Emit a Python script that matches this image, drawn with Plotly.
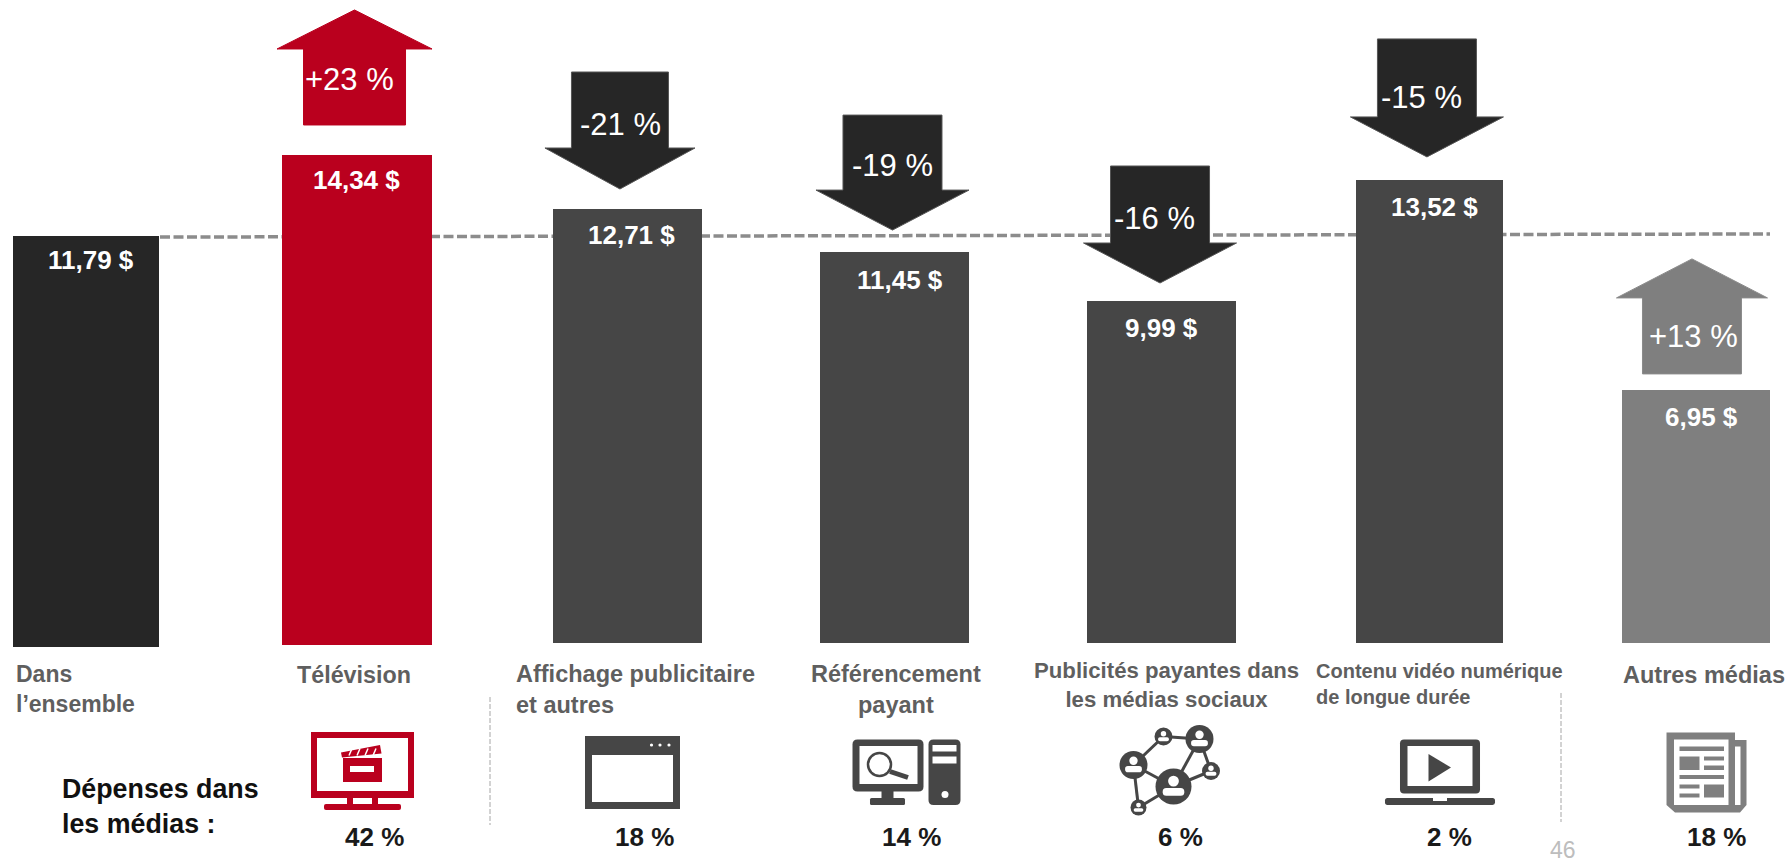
import plotly.graph_objects as go

# ---- data ----
categories = ["Dans l’ensemble", "Télévision", "Affichage publicitaire et autres",
              "Référencement payant", "Publicités payantes dans les médias sociaux",
              "Contenu vidéo numérique de longue durée", "Autres médias"]
label_values = [11.79, 14.34, 12.71, 11.45, 9.99, 13.52, 6.95]
# Bar tops as actually drawn in the reference (not quite to scale with the printed labels)
bar_tops = [11.90, 14.27, 12.69, 11.43, 10.00, 13.54, 7.40]
bar_bases = [-0.117, -0.058, 0, 0, 0, 0, 0]
change_labels = [None, "+23 %", "-21 %", "-19 %", "-16 %", "-15 %", "+13 %"]
media_spend = ["42 %", "18 %", "14 %", "6 %", "2 %", "18 %"]
average_line = [11.87, 11.96]

# ---- styles / layout ----
W, H = 1790, 863
FONT = "Liberation Sans"
RED, BLACK, DARK, GREY = "#BA001E", "#262626", "#464646", "#7F7F7F"
bar_colors = [BLACK, RED, DARK, DARK, DARK, DARK, GREY]
X0, STEP, Y0, UNIT = 86.0, 268.33, 643.0, 34.2   # pixel calibration of the two axes
bar_left_px = [-73, -72.3, -69.7, -71, -72.3, -71.7, -74]
bar_width_px = [146, 150, 149, 149, 149, 147, 148]

fig = go.Figure()
fig.add_bar(
    x=categories,
    y=[t - b for t, b in zip(bar_tops, bar_bases)],
    base=bar_bases,
    width=[w / STEP for w in bar_width_px],
    offset=[o / STEP for o in bar_left_px],
    marker=dict(color=bar_colors, line=dict(width=0)),
    hoverinfo="skip",
)

shapes, ann = [], []

# ---- average dashed line, behind the bars ----
shapes.append(dict(type="line", xref="x", yref="y", layer="below",
                   x0=(160 - X0) / STEP, x1=(1770 - X0) / STEP,
                   y0=average_line[0], y1=average_line[1],
                   line=dict(color="#8C8C8C", width=3.5, dash="10px,3.5px")))

# ---- arrows anchored on their bars: (dx, gap, head, shaft, head half, shaft half) ----
arrow_geo = {1: (0.2, 30, 39, 76, 77.5, 51), 2: (-2.7, 20, 41, 76, 75, 48.5),
             3: (1.5, 22, 40, 75, 76.5, 49.5), 4: (0.7, 18, 40, 77, 76.5, 49.5),
             5: (-0.7, 23, 40, 78, 76.5, 49.5), 6: (-4, 16, 39, 76, 75.5, 49.5)}
arrow_colors = {1: RED, 2: BLACK, 3: BLACK, 4: BLACK, 5: BLACK, 6: GREY}
arrow_lines = {1: RED, 2: "#555555", 3: "#555555", 4: "#555555", 5: "#555555", 6: "#8A8A8A"}
change_y_px = {1: 79, 2: 125, 3: 166, 4: 218, 5: 98, 6: 336}
change_x_px = {1: 349, 2: 620, 3: 892, 4: 1154, 5: 1421, 6: 1693}

def top_px(i):
    return Y0 - UNIT * bar_tops[i]

for i, (dx, gap, head, shaft, hh, sh) in arrow_geo.items():
    up = change_labels[i].startswith("+")
    if up:
        a, b, c = gap, gap + shaft, gap + shaft + head       # shaft bottom, head base, tip
    else:
        a, b, c = gap + head + shaft, gap + head, gap        # shaft top, head base, tip
    path = (f"M {dx - sh} {a} L {dx + sh} {a} L {dx + sh} {b} L {dx + hh} {b} "
            f"L {dx} {c} L {dx - hh} {b} L {dx - sh} {b} Z")
    shapes.append(dict(type="path", path=path, xref="x", yref="y",
                       xsizemode="pixel", ysizemode="pixel", xanchor=i, yanchor=bar_tops[i],
                       fillcolor=arrow_colors[i], line=dict(color=arrow_lines[i], width=1),
                       layer="above"))
    ann.append(dict(x=i, y=bar_tops[i], xref="x", yref="y",
                    xshift=change_x_px[i] - (X0 + STEP * i),
                    yshift=top_px(i) - change_y_px[i],
                    text=change_labels[i], showarrow=False, xanchor="center", yanchor="middle",
                    font=dict(family=FONT, size=31, color="white")))

# ---- value labels inside the bars ----
value_x_px = [91, 356, 631, 900, 1161, 1434, 1701]
value_dy_px = [24, 25, 26, 28, 27, 27, 27]
for i, v in enumerate(label_values):
    ann.append(dict(x=i, y=bar_tops[i], xref="x", yref="y",
                    xshift=value_x_px[i] - (X0 + STEP * i), yshift=-value_dy_px[i],
                    text=f"{v:.2f}".replace(".", ",") + " $", showarrow=False,
                    xanchor="center", yanchor="middle",
                    font=dict(family=FONT, size=26, color="white", weight="bold")))

# ---- pixel helpers for page furniture ----
def px(x): return x / W
def py(y): return 1 - y / H
def text(x, y, s, size, color, anchor="center", bold=True):
    f = dict(family=FONT, size=size, color=color)
    if bold:
        f["weight"] = "bold"
    ann.append(dict(x=px(x), y=py(y), xref="paper", yref="paper", text=s, showarrow=False,
                    xanchor=anchor, yanchor="middle", align=anchor, font=f))
def rect(x0, y0, x1, y1, c):
    shapes.append(dict(type="rect", xref="paper", yref="paper", x0=px(x0), x1=px(x1),
                       y0=py(y1), y1=py(y0), fillcolor=c, line=dict(width=0), layer="above"))
def poly(pts, c):
    d = "M " + " L ".join(f"{px(a):.5f} {py(b):.5f}" for a, b in pts) + " Z"
    shapes.append(dict(type="path", xref="paper", yref="paper", path=d, fillcolor=c,
                       line=dict(width=0), layer="above"))
def rrect(x0, y0, x1, y1, r, c):
    P = lambda a, b: f"{px(a):.5f} {py(b):.5f}"
    d = (f"M {P(x0 + r, y0)} L {P(x1 - r, y0)} Q {P(x1, y0)} {P(x1, y0 + r)} "
         f"L {P(x1, y1 - r)} Q {P(x1, y1)} {P(x1 - r, y1)} L {P(x0 + r, y1)} "
         f"Q {P(x0, y1)} {P(x0, y1 - r)} L {P(x0, y0 + r)} Q {P(x0, y0)} {P(x0 + r, y0)} Z")
    shapes.append(dict(type="path", xref="paper", yref="paper", path=d, fillcolor=c,
                       line=dict(width=0), layer="above"))
def circle(cx, cy, r, c, lw=0, lc=None):
    shapes.append(dict(type="circle", xref="paper", yref="paper", x0=px(cx - r), x1=px(cx + r),
                       y0=py(cy + r), y1=py(cy - r), fillcolor=c,
                       line=dict(width=lw, color=lc or c), layer="above"))
def seg(x0, y0, x1, y1, c, w):
    shapes.append(dict(type="line", xref="paper", yref="paper", x0=px(x0), x1=px(x1),
                       y0=py(y0), y1=py(y1), line=dict(color=c, width=w), layer="above"))

# ---- category labels ----
GT = "#5F5F5F"
text(14, 689, "Dans<br>l’ensemble", 23, GT, "left")
text(354, 675, "Télévision", 23.3, GT)
text(514, 689, "Affichage publicitaire<br>et autres", 23.5, GT, "left")
text(896, 689, "Référencement<br>payant", 23.5, GT)
text(1166, 685, "Publicités payantes dans<br>les médias sociaux", 22.2, GT)
text(1314, 684, "Contenu vidéo numérique<br>de longue durée", 20, GT, "left")
text(1704, 675, "Autres médias", 23.5, GT)

# ---- spend row ----
text(60, 806, "Dépenses dans<br>les médias :", 26.8, "#111111", "left")
spend_x = [374, 644, 911, 1180, 1449, 1716]
for x, s in zip(spend_x, media_spend):
    text(x, 837, s, 26, "#1A1A1A")
text(1563, 849.5, "46", 23, "#BDBDBD", bold=False)

# ---- thin separators ----
seg(490, 697, 490, 825, "#A6A6A6", 1)
shapes[-1]["line"]["dash"] = "5px,2px"
seg(1561, 693, 1561, 822, "#A6A6A6", 1)
shapes[-1]["line"]["dash"] = "5px,2px"

# ---- TV icon ----
rect(311, 732, 414, 798, RED); rect(317, 738, 408, 791, "white")
rect(347, 798, 353, 806, RED); rect(372, 798, 378, 806, RED)
rrect(324, 804, 401, 810, 2, RED)
rect(343, 758, 382, 782, RED); rect(350, 766, 374, 772, "white")
poly([(341, 752.5), (380, 745), (381.5, 753.5), (342, 757.5)], RED)
for sx in (349, 357, 365, 373):
    seg(sx, 755.5, sx + 3, 748.5, "white", 1.5)

# ---- browser icon ----
rect(585, 736, 680, 809, DARK); rect(592, 755, 673, 802, "white")
for cx in (651.5, 660, 669):
    circle(cx, 745, 1.6, "white")

# ---- computer icon ----
rrect(852.5, 739.5, 923.5, 791.5, 5, DARK); rect(859.5, 746, 917.5, 784, "white")
rect(881.5, 791, 893.5, 800, DARK); rrect(870, 798, 905, 805, 1.5, DARK)
circle(879.5, 764.5, 11.5, "white", 2.5, DARK)
seg(890, 771.5, 908, 777.5, DARK, 5)
rrect(928.5, 739.5, 960.5, 805, 5, DARK)
rect(932.5, 745, 956.5, 751.5, "white"); rect(932.5, 756.5, 956.5, 763.5, "white")
circle(945, 794.5, 3.5, "white")

# ---- network icon ----
nodes = [(1173.5, 786.5, 18), (1199.5, 739, 14), (1133.5, 765, 14),
         (1163.5, 736.5, 9), (1211, 771, 9), (1138.5, 807.5, 8)]
edges = [(3, 1), (3, 2), (1, 0), (1, 4), (4, 0), (2, 0), (2, 5), (5, 0)]
for a, b in edges:
    seg(nodes[a][0], nodes[a][1], nodes[b][0], nodes[b][1], DARK, 3)
for cx, cy, r in nodes:
    circle(cx, cy, r, DARK)
    circle(cx, cy - r * 0.3, r * 0.3, "white")
    rrect(cx - r * 0.6, cy + r * 0.08, cx + r * 0.6, cy + r * 0.52, r * 0.2, "white")

# ---- laptop icon ----
rrect(1400, 739.5, 1480, 793.5, 4, DARK); rect(1407.5, 746, 1472.5, 786, "white")
poly([(1428.5, 754), (1451, 767.5), (1428.5, 781.5)], DARK)
rrect(1385, 798, 1495, 805, 2.5, DARK); rect(1433, 798, 1447, 801, "white")

# ---- newspaper icon ----
poly([(1666.5, 732.5), (1735, 732.5), (1735, 740), (1746.5, 740), (1746.5, 805),
      (1740, 812.5), (1675, 812.5), (1666.5, 805)], GREY)
rect(1674, 739.5, 1728.5, 805, "white")
rect(1735, 746.5, 1740.5, 805, "white")
for b in [(1679.5, 746.5, 1724, 751), (1679.5, 756.5, 1699.5, 770), (1704, 756.5, 1724, 760.5),
          (1704, 765.5, 1724, 770), (1679.5, 775, 1724, 779), (1679.5, 784.5, 1699.5, 788.5),
          (1679.5, 793.5, 1699.5, 797.5), (1704, 784.5, 1724, 797.5)]:
    rect(*b, GREY)

fig.update_layout(
    width=W, height=H, autosize=False, margin=dict(l=0, r=0, t=0, b=0),
    plot_bgcolor="white", paper_bgcolor="white", showlegend=False, bargap=0,
    shapes=shapes, annotations=ann,
    xaxis=dict(type="category", categoryorder="array", categoryarray=categories,
               range=[-X0 / STEP, (W - X0) / STEP], visible=False, fixedrange=True),
    yaxis=dict(range=[(Y0 - H) / UNIT, Y0 / UNIT], visible=False, fixedrange=True),
)
fig.write_html("out.html", config=dict(displayModeBar=False),
               post_script="document.body.style.margin='0';document.body.style.overflow='hidden';")
